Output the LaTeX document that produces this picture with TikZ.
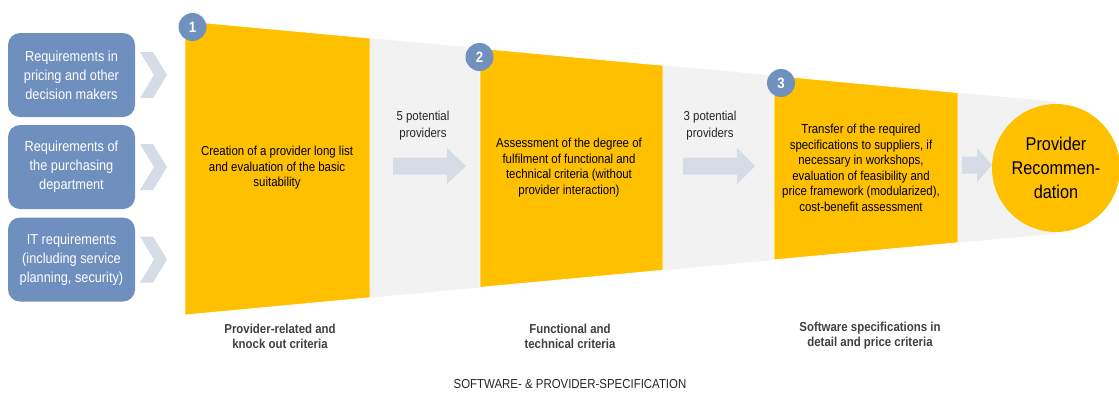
\documentclass[tikz,border=0pt]{standalone}
\usepackage{fontspec}
\setmainfont{Liberation Sans}[FakeStretch=0.88]
\definecolor{funnelgrey}{HTML}{F2F2F2}
\definecolor{stageyellow}{HTML}{FFC000}
\definecolor{reqblue}{HTML}{6F8FBF}
\definecolor{badgeblue}{HTML}{7090BD}
\definecolor{arrowgrey}{HTML}{D6DCE5}
\definecolor{labelgrey}{HTML}{404040}
\begin{document}
\begin{tikzpicture}[x=1pt,y=-1pt,
  reqbox/.style={fill=reqblue, rounded corners=12pt, minimum width=127pt,
    minimum height=84pt, inner sep=0pt, text=white, align=center,
    font=\fontsize{14.5}{19}\selectfont},
  badge/.style={circle, fill=badgeblue, minimum size=28pt, inner sep=0pt,
    text=white, font=\fontsize{15}{15}\selectfont\bfseries},
  stagetext/.style={align=center, font=\fontsize{13}{15.5}\selectfont, text=black},
  countlabel/.style={align=center, font=\fontsize{13}{17}\selectfont, text=black!85},
  criteria/.style={align=center, font=\fontsize{13}{15}\selectfont\bfseries, text=labelgrey},
  stagepanel/.style={fill=stageyellow, draw=white, line width=0.8pt},
  chevron/.style={fill=arrowgrey},
  blockarrow/.style={fill=arrowgrey}]
\useasboundingbox (0,0) rectangle (1119,392);

% funnel background
\fill[funnelgrey] (185,21) -- (1056,101.7) -- (1056,233.6) -- (185,315) -- cycle;

% three yellow stage panels
\path[stagepanel] (185,21) -- (370,38.1) -- (370,297.7) -- (185,315) -- cycle;
\path[stagepanel] (480,48.3) -- (663,65.3) -- (663,270.3) -- (480,287.4) -- cycle;
\path[stagepanel] (774,75.5) -- (958,92.6) -- (958,242.7) -- (774,259.9) -- cycle;

% input requirements
\node[reqbox] (r1) at (71.5,75) {Requirements in\\pricing and other\\decision makers};
\node[reqbox] (r2) at (71.5,167) {Requirements of\\the purchasing\\department};
\node[reqbox] (r3) at (71.5,259.5) {IT requirements\\(including service\\planning, security)};

% chevrons between requirements and stage 1
\foreach \cy in {75,167,259.5}
  \fill[chevron, shift={(140,\cy)}] (0,-23) -- (13,-23) -- (27,0) -- (13,23) -- (0,23) -- (14,0) -- cycle;

% stage texts
\node[stagetext] (s1) at (277,168) {Creation of a provider long list\\and evaluation of the basic\\suitability};
\node[stagetext] (s2) at (569,167.5) {Assessment of the degree of\\fulfilment of functional and\\technical criteria (without\\provider interaction)};
\node[stagetext] (s3) at (861,168) {Transfer of the required\\specifications to suppliers, if\\necessary in workshops,\\evaluation of feasibility and\\price framework (modularized),\\cost-benefit assessment};

% badges
\node[badge] (b1) at (192.5,27) {1};
\node[badge] (b2) at (479.5,57) {2};
\node[badge] (b3) at (781,83) {3};

% shortlist counts and block arrows
\node[countlabel] (c1) at (423,125.5) {5 potential\\providers};
\node[countlabel] (c2) at (710,125.5) {3 potential\\providers};
\fill[blockarrow, shift={(393,166)}] (0,-8.5) -- (54,-8.5) -- (54,-18) -- (73,0) -- (54,18) -- (54,8.5) -- (0,8.5) -- cycle;
\fill[blockarrow, shift={(683,166)}] (0,-8.5) -- (54,-8.5) -- (54,-18) -- (72,0) -- (54,18) -- (54,8.5) -- (0,8.5) -- cycle;
\fill[blockarrow, shift={(962,165)}] (0,-8.5) -- (15,-8.5) -- (15,-17) -- (30,0) -- (15,17) -- (15,8.5) -- (0,8.5) -- cycle;

% result
\node[circle, fill=stageyellow, minimum size=128pt, inner sep=0pt, align=center,
  font=\fontsize{18.5}{24}\selectfont] (rec) at (1056,168) {Provider\\Recommen-\\dation};

% criteria captions
\node[criteria] (k1) at (280,336) {Provider-related and\\knock out criteria};
\node[criteria] (k2) at (570,336) {Functional and\\technical criteria};
\node[criteria] (k3) at (870,336) {Software specifications in\\detail and price criteria};

\node[font=\fontsize{13}{15}\selectfont, text=black!85] (title) at (570,384) {SOFTWARE- \& PROVIDER-SPECIFICATION};
\end{tikzpicture}
\end{document}
